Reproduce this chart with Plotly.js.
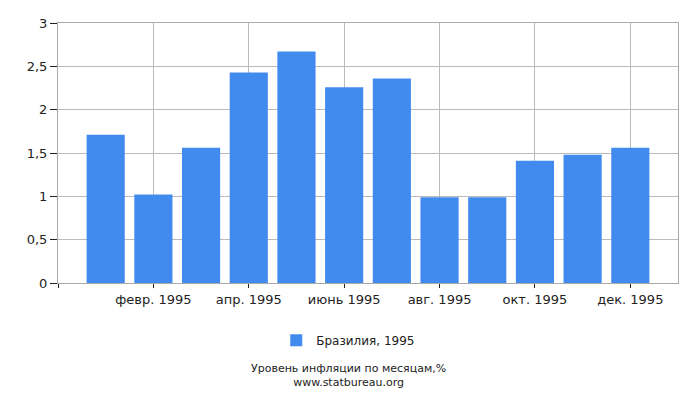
<!DOCTYPE html>
<html>
<head>
<meta charset="utf-8">
<script src="https://cdn.plot.ly/plotly-3.0.1.min.js"></script>
<style>html,body{margin:0;padding:0;background:#fff;}#chart{width:700px;height:400px;}</style>
</head>
<body>
<div id="chart"></div>
<script>
const months = ['янв. 1995','февр. 1995','март 1995','апр. 1995','май 1995','июнь 1995','июль 1995','авг. 1995','сент. 1995','окт. 1995','нояб. 1995','дек. 1995'];
const values = [1.71, 1.02, 1.56, 2.43, 2.67, 2.26, 2.36, 0.99, 0.99, 1.41, 1.48, 1.56];
const seriesName = 'Бразилия, 1995';
const tickIdx = [-1, 1, 3, 5, 7, 9, 11];
const tickLabels = ['', 'февр. 1995', 'апр. 1995', 'июнь 1995', 'авг. 1995', 'окт. 1995', 'дек. 1995'];
const yTicks = [0, 0.5, 1, 1.5, 2, 2.5, 3];
const titleText = 'Уровень инфляции по месяцам,%';
const sourceText = 'www.statbureau.org';

const xIdx = months.map((m, i) => i);

const font = 'DejaVu Sans, Verdana, sans-serif';
Plotly.newPlot('chart', [{
  type: 'bar',
  x: xIdx,
  y: values,
  hovertext: months,
  textposition: 'none',
  name: seriesName,
  width: 0.8,
  marker: {color: '#428BEE'}
}], {
  width: 700, height: 400,
  margin: {l: 57.5, r: 21.5, t: 22.5, b: 116.5},
  separators: ', ',
  paper_bgcolor: '#fff',
  plot_bgcolor: '#fff',
  font: {family: font, size: 13, color: '#222'},
  showlegend: true,
  legend: {orientation: 'h', x: 0.352, xanchor: 'left', y: -0.22, yanchor: 'middle', font: {size: 12, color: '#222'}},
  xaxis: {
    range: [-1, 12],
    tickvals: tickIdx,
    ticktext: tickLabels,
    ticks: 'outside', ticklen: 4, tickcolor: '#222',
    showgrid: true, gridcolor: '#bbb',
    showline: true, linecolor: '#aaa', mirror: true,
    zeroline: false,
    fixedrange: true
  },
  yaxis: {
    range: [0, 3],
    tickvals: yTicks,
    ticks: 'outside', ticklen: 7, tickcolor: '#222',
    showgrid: true, gridcolor: '#bbb',
    showline: true, linecolor: '#aaa', mirror: true,
    zeroline: false,
    fixedrange: true
  },
  annotations: [
    {text: titleText + '<br>' + sourceText, xref: 'paper', yref: 'paper', x: 0.468, y: -0.356, xanchor: 'center', yanchor: 'middle', showarrow: false, font: {size: 11, color: '#222'}}
  ]
}, {displayModeBar: false, staticPlot: true});
</script>
</body>
</html>
